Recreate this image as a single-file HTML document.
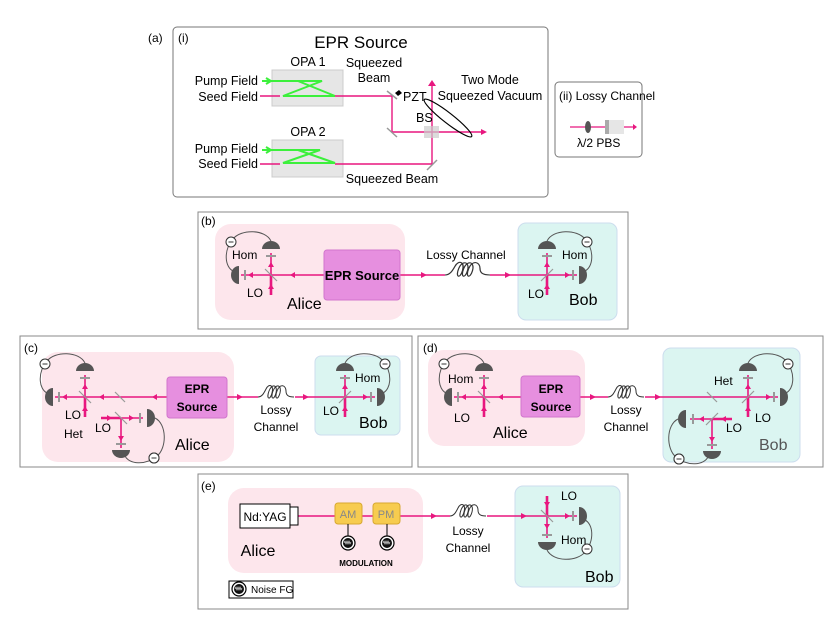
<!DOCTYPE html>
<html><head><meta charset="utf-8"><style>
html,body{margin:0;padding:0;background:#fff;}
svg{display:block;font-family:"Liberation Sans","DejaVu Sans",sans-serif;}
</style></head><body>
<svg width="830" height="627" viewBox="0 0 830 627" xmlns="http://www.w3.org/2000/svg">
<defs>
<symbol id="tri" overflow="visible"><path d="M-3,-3 L3,0 L-3,3 Z" fill="#e8177f"/></symbol>
<symbol id="hd" overflow="visible">
  <line x1="0" y1="0" x2="-30" y2="0" stroke="#e8177f" stroke-width="1.6"/>
  <path d="M-18,-3 L-23,0 L-18,3Z" fill="#e8177f"/>
  <line x1="-26" y1="-5" x2="-26" y2="5" stroke="#999" stroke-width="2"/>
  <line x1="0" y1="20" x2="0" y2="0" stroke="#e8177f" stroke-width="2.6"/>
  <line x1="0" y1="0" x2="0" y2="-22" stroke="#e8177f" stroke-width="1.6"/>
  <path d="M-3,14 L0,9 L3,14Z" fill="#e8177f"/>
  <path d="M-3,-8 L0,-13 L3,-8Z" fill="#e8177f"/>
  <line x1="-5" y1="-19" x2="5" y2="-19" stroke="#999" stroke-width="2"/>
  <line x1="-6" y1="-6" x2="6" y2="6" stroke="#999" stroke-width="1.2"/>
  <path d="M-9,-26 A9,8 0 0 1 9,-26 Z" fill="#555"/>
  <path d="M-32,-9 A8,9 0 0 0 -32,9 Z" fill="#555"/>
  <path d="M0,-34 C-6,-46 -30,-46 -38,-36 C-48,-24 -46,-8 -38,-4" fill="none" stroke="#555" stroke-width="1"/>
  <circle cx="-40" cy="-33" r="5" fill="#fff" stroke="#333" stroke-width="1"/>
  <line x1="-42.5" y1="-33" x2="-37.5" y2="-33" stroke="#333" stroke-width="1"/>
</symbol>
<symbol id="mn" overflow="visible">
  <circle cx="0" cy="0" r="5" fill="#fff" stroke="#333" stroke-width="1"/>
  <line x1="-2.5" y1="0" x2="2.5" y2="0" stroke="#333" stroke-width="1"/>
</symbol>
<symbol id="coil" overflow="visible">
  <path d="M0,0 C4,0 6,-4 8,-8 C11,-14 16,-12 14,-4 C12,4 8,2 11,-6 C14,-14 20,-12 18,-4 C16,4 12,2 15,-6 C18,-14 24,-12 22,-4 C20,4 16,2 19,-6 C22,-14 28,-12 28,-6 C28,-2 30,0 36,0" fill="none" stroke="#333" stroke-width="1"/>
</symbol>
<symbol id="nz" overflow="visible">
  <circle cx="0" cy="0" r="7" fill="#fff" stroke="#000" stroke-width="1.2"/>
  <circle cx="0" cy="0" r="5" fill="#111"/>
  <path d="M-4,0 l1,-2 1,3 1,-3 1,3 1,-3 1,3 1,-2" stroke="#fff" stroke-width="0.6" fill="none"/>
</symbol>
</defs>

<!-- (a) -->
<text x="148" y="42" font-size="12">(a)</text>
<rect x="173" y="27" width="375" height="170" rx="4" fill="#fff" stroke="#777"/>
<text x="178" y="42" font-size="12">(i)</text>
<text x="361" y="48" font-size="17" text-anchor="middle">EPR Source</text>
<rect x="272" y="70" width="71" height="36" fill="#e6e6e6" stroke="#ccc"/>
<rect x="272" y="140" width="71" height="37" fill="#e6e6e6" stroke="#ccc"/>
<text x="308" y="66" font-size="12.5" text-anchor="middle">OPA 1</text>
<text x="308" y="136" font-size="12.5" text-anchor="middle">OPA 2</text>
<text x="258" y="85" font-size="12.5" text-anchor="end">Pump Field</text>
<text x="258" y="101" font-size="12.5" text-anchor="end">Seed Field</text>
<text x="258" y="153" font-size="12.5" text-anchor="end">Pump Field</text>
<text x="258" y="168" font-size="12.5" text-anchor="end">Seed Field</text>
<g stroke="#3cf03c" stroke-width="2" fill="none">
<line x1="262" y1="81" x2="322" y2="81"/><path d="M283,96 L322,81 L298,81 L335,96 Z"/>
<line x1="262" y1="150" x2="320" y2="150"/><path d="M283,163 L320,150 L298,150 L335,163 Z"/>
</g>
<path d="M266,78 l5,3 -5,3" stroke="#3cf03c" stroke-width="2" fill="none"/>
<path d="M266,147 l5,3 -5,3" stroke="#3cf03c" stroke-width="2" fill="none"/>
<g stroke="#e8177f" stroke-width="1.4" fill="none">
<line x1="260" y1="96" x2="280" y2="96"/><line x1="260" y1="164" x2="280" y2="164"/>
<polyline points="335,96 392,96 392,132 485,132"/>
<polyline points="335,164 432,164 432,84"/>
</g>
<path d="M428,86 l4,-6 4,6Z M481,129 l6,3 -6,3Z" fill="#e8177f"/>
<g stroke="#999" stroke-width="1.5"><line x1="387" y1="91" x2="397" y2="99"/><line x1="387" y1="128" x2="397" y2="137"/><line x1="427" y1="170" x2="437" y2="160"/></g>
<rect x="424" y="126" width="15" height="12" fill="#ccc" opacity="0.7"/>
<path d="M395,93 l4,-3 3,3 -4,3Z" fill="#000"/>
<text x="403" y="101" font-size="12.5">PZT</text>
<text x="416" y="122" font-size="12.5">BS</text>
<text x="374" y="67" font-size="12.5" text-anchor="middle">Squeezed</text>
<text x="374" y="82" font-size="12.5" text-anchor="middle">Beam</text>
<text x="392" y="183" font-size="12.5" text-anchor="middle">Squeezed Beam</text>
<text x="490" y="84" font-size="12.5" text-anchor="middle">Two Mode</text>
<text x="490" y="100" font-size="12.5" text-anchor="middle">Squeezed Vacuum</text>
<ellipse cx="448" cy="118" rx="30" ry="5" transform="rotate(38 448 118)" fill="none" stroke="#000" stroke-width="1.2"/>

<!-- (ii) -->
<rect x="555" y="82" width="87" height="75" rx="4" fill="#fff" stroke="#777"/>
<text x="559" y="100" font-size="12">(ii)  Lossy Channel</text>
<line x1="570" y1="127" x2="634" y2="127" stroke="#e8177f" stroke-width="1.3"/>
<path d="M633,124 l4,3 -4,3Z" fill="#e8177f"/>
<ellipse cx="588" cy="127" rx="3" ry="6" fill="#555"/>
<rect x="605" y="120" width="4" height="14" fill="#aaa"/><rect x="609" y="120" width="15" height="14" fill="#e6e6e6"/>
<text x="577" y="147" font-size="12">λ/2 PBS</text>

<!-- (b) -->
<rect x="198" y="212" width="430" height="117" fill="#fff" stroke="#888"/>
<text x="201" y="225" font-size="12">(b)</text>
<rect x="215" y="224" width="190" height="96" rx="16" fill="#fde6ec"/>
<rect x="518" y="223" width="99" height="97" rx="8" fill="#dbf5f1" stroke="#cde"/>
<line x1="271" y1="275" x2="547" y2="275" stroke="#e8177f" stroke-width="1.6"/>
<path d="M295,272 l-5,3 5,3Z" fill="#e8177f"/><use href="#tri" x="424" y="275"/><use href="#tri" x="508" y="275"/>
<rect x="324" y="250" width="76" height="50" rx="3" fill="#e68fdf" stroke="#d176cd"/>
<text x="362" y="280" font-size="13" font-weight="bold" text-anchor="middle">EPR Source</text>
<rect x="445" y="268" width="45" height="14" fill="#fff"/>
<use href="#coil" transform="translate(445,275) scale(1.25,1.1)"/>
<text x="466" y="259" font-size="12" text-anchor="middle">Lossy Channel</text>
<use href="#hd" transform="translate(271,275)"/>
<use href="#hd" transform="translate(547,275) scale(-1,1)"/>
<text x="232" y="259" font-size="12">Hom</text>
<text x="247" y="297" font-size="12">LO</text>
<text x="287" y="309" font-size="16">Alice</text>
<text x="562" y="259" font-size="12">Hom</text>
<text x="528" y="298" font-size="12">LO</text>
<text x="569" y="305" font-size="16">Bob</text>

<!-- (c) -->
<rect x="20" y="336" width="392" height="131" fill="#fff" stroke="#888"/>
<text x="24" y="352" font-size="12">(c)</text>
<rect x="42" y="352" width="192" height="110" rx="16" fill="#fde6ec"/>
<rect x="315" y="356" width="85" height="79" rx="6" fill="#dbf5f1" stroke="#cde"/>
<line x1="85" y1="397" x2="345" y2="397" stroke="#e8177f" stroke-width="1.6"/>
<path d="M157,394 l-5,3 5,3Z M104,394 l-5,3 5,3Z" fill="#e8177f"/>
<use href="#tri" x="240" y="397"/><use href="#tri" x="306" y="397"/>
<rect x="167" y="377" width="60" height="41" rx="3" fill="#e68fdf" stroke="#d176cd"/>
<text x="197" y="393" font-size="12" font-weight="bold" text-anchor="middle">EPR</text>
<text x="197" y="411" font-size="12" font-weight="bold" text-anchor="middle">Source</text>
<rect x="258" y="389" width="37" height="12" fill="#fff"/>
<use href="#coil" x="258" y="397"/>
<text x="276" y="414" font-size="12" text-anchor="middle">Lossy</text>
<text x="276" y="431" font-size="12" text-anchor="middle">Channel</text>
<use href="#hd" transform="translate(85,397)"/>
<line x1="115" y1="392" x2="125" y2="402" stroke="#999" stroke-width="1.2"/>
<use href="#hd" transform="matrix(0,-1,-1,0,121,418)"/>
<use href="#mn" x="154" y="458"/>
<use href="#hd" transform="translate(345,397) scale(-1,1)"/>
<text x="65" y="419" font-size="12">LO</text>
<text x="64" y="438" font-size="12">Het</text>
<text x="95" y="432" font-size="12">LO</text>
<text x="175" y="450" font-size="16">Alice</text>
<text x="355" y="382" font-size="12">Hom</text>
<text x="323" y="415" font-size="12">LO</text>
<text x="359" y="428" font-size="16">Bob</text>

<!-- (d) -->
<rect x="418" y="336" width="405" height="131" fill="#fff" stroke="#888"/>
<text x="423" y="352" font-size="12">(d)</text>
<rect x="428" y="350" width="157" height="96" rx="16" fill="#fde6ec"/>
<rect x="663" y="348" width="137" height="114" rx="8" fill="#dbf5f1" stroke="#cde"/>
<line x1="484" y1="397" x2="748" y2="397" stroke="#e8177f" stroke-width="1.6"/>
<path d="M503,394 l-5,3 5,3Z" fill="#e8177f"/>
<use href="#tri" x="593" y="397"/><use href="#tri" x="658" y="397"/>
<rect x="521" y="376" width="59" height="41" rx="3" fill="#e68fdf" stroke="#d176cd"/>
<text x="551" y="393" font-size="12" font-weight="bold" text-anchor="middle">EPR</text>
<text x="551" y="411" font-size="12" font-weight="bold" text-anchor="middle">Source</text>
<rect x="608" y="389" width="37" height="12" fill="#fff"/>
<use href="#coil" x="608" y="397"/>
<text x="626" y="414" font-size="12" text-anchor="middle">Lossy</text>
<text x="626" y="431" font-size="12" text-anchor="middle">Channel</text>
<use href="#hd" transform="translate(484,397)"/>
<line x1="707" y1="392" x2="717" y2="402" stroke="#999" stroke-width="1.2"/>
<use href="#hd" transform="translate(748,397) scale(-1,1)"/>
<use href="#hd" transform="matrix(0,-1,1,0,712,419)"/>
<use href="#mn" x="679" y="459"/>
<text x="448" y="383" font-size="12">Hom</text>
<text x="454" y="422" font-size="12">LO</text>
<text x="493" y="438" font-size="16">Alice</text>
<text x="714" y="385" font-size="12">Het</text>
<text x="755" y="422" font-size="12">LO</text>
<text x="726" y="432" font-size="12">LO</text>
<text x="759" y="450" font-size="16" fill="#555">Bob</text>

<!-- (e) -->
<rect x="198" y="474" width="430" height="135" fill="#fff" stroke="#888"/>
<text x="201" y="490" font-size="12">(e)</text>
<rect x="228" y="488" width="195" height="85" rx="16" fill="#fde6ec"/>
<rect x="515" y="486" width="105" height="101" rx="8" fill="#dbf5f1" stroke="#cde"/>
<line x1="298" y1="516" x2="547" y2="516" stroke="#e8177f" stroke-width="1.6"/>
<use href="#tri" x="434" y="516"/><use href="#tri" x="524" y="516"/>
<rect x="240" y="504" width="50" height="24" fill="#fff" stroke="#000"/>
<rect x="290" y="507" width="8" height="18" fill="#fff" stroke="#000"/>
<text x="265" y="521" font-size="12" text-anchor="middle">Nd:YAG</text>
<rect x="335" y="503" width="27" height="21" rx="3" fill="#f7cc4f" stroke="#d8a830"/>
<rect x="373" y="503" width="27" height="21" rx="3" fill="#f7cc4f" stroke="#d8a830"/>
<text x="348" y="518" font-size="11" fill="#888" text-anchor="middle">AM</text>
<text x="386" y="518" font-size="11" fill="#888" text-anchor="middle">PM</text>
<line x1="348" y1="524" x2="348" y2="536" stroke="#000"/><line x1="387" y1="524" x2="387" y2="536" stroke="#000"/>
<use href="#nz" x="348" y="543"/><use href="#nz" x="387" y="543"/>
<text x="366" y="566" font-size="8" font-weight="bold" text-anchor="middle">MODULATION</text>
<text x="258" y="556" font-size="16" text-anchor="middle">Alice</text>
<rect x="229" y="581" width="64" height="17" fill="#fff" stroke="#000"/>
<use href="#nz" x="239" y="589"/>
<text x="251" y="593" font-size="10">Noise FG</text>
<rect x="450" y="509" width="37" height="12" fill="#fff"/>
<use href="#coil" x="450" y="516"/>
<text x="468" y="535" font-size="12" text-anchor="middle">Lossy</text>
<text x="468" y="552" font-size="12" text-anchor="middle">Channel</text>
<use href="#hd" transform="translate(547,516) scale(-1,-1)"/>
<text x="561" y="500" font-size="12">LO</text>
<text x="561" y="544" font-size="12">Hom</text>
<text x="585" y="582" font-size="16">Bob</text>
</svg>
</body></html>
